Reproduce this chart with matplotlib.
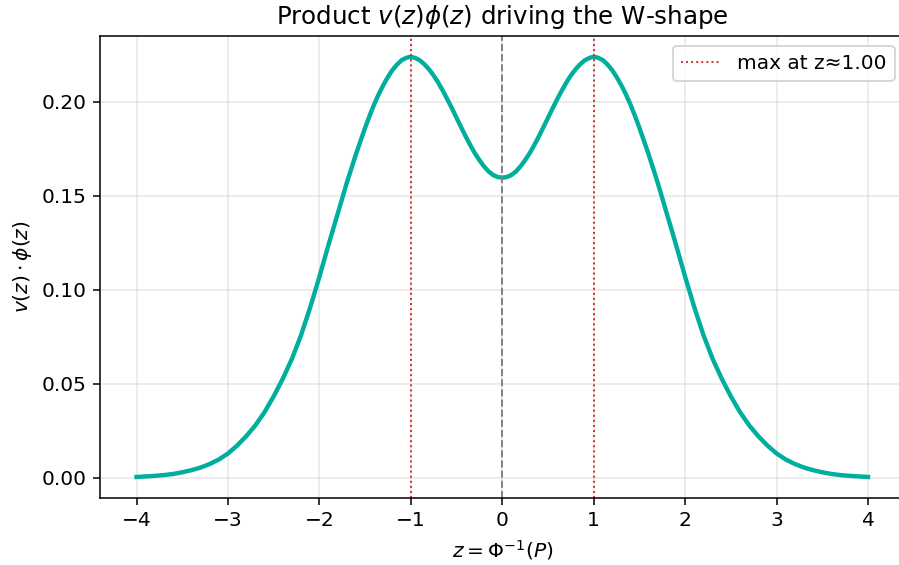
import numpy as np
import matplotlib
matplotlib.use("Agg")
import matplotlib.pyplot as plt

# ==========================================
# dados
# ==========================================
z_esquerda = [
    -4.0, -3.9, -3.8, -3.7, -3.6, -3.5, -3.4, -3.3, -3.2, -3.1,
    -3.0, -2.9, -2.8, -2.7, -2.6, -2.5, -2.4, -2.3, -2.2, -2.1,
    -2.0, -1.9, -1.8, -1.7, -1.6, -1.5, -1.45, -1.4, -1.35, -1.3,
    -1.25, -1.2, -1.15, -1.1, -1.05, -1.0, -0.95, -0.9, -0.85, -0.8,
    -0.75, -0.7, -0.65, -0.6, -0.55, -0.5, -0.45, -0.4, -0.35, -0.3,
    -0.25, -0.2, -0.15, -0.1, -0.05,
]
produto_esquerda = [
    0.0005, 0.0008, 0.0011, 0.0015, 0.0021, 0.0030, 0.0041, 0.0055, 0.0074, 0.0098,
    0.0130, 0.0172, 0.0222, 0.0280, 0.0350, 0.0434, 0.0528, 0.0634, 0.0760, 0.0908,
    0.1070, 0.1240, 0.1405, 0.1570, 0.1722, 0.1862, 0.1927, 0.1988, 0.2042, 0.2090,
    0.2133, 0.2170, 0.2199, 0.2222, 0.2234, 0.2240, 0.2233, 0.2220, 0.2199, 0.2172,
    0.2140, 0.2102, 0.2059, 0.2013, 0.1965, 0.1915, 0.1865, 0.1816, 0.1770, 0.1727,
    0.1690, 0.1657, 0.1630, 0.1611, 0.1600,
]

z_direita = [
    0.0, 0.05, 0.1, 0.15, 0.2, 0.25, 0.3, 0.35, 0.4, 0.45,
    0.5, 0.55, 0.6, 0.65, 0.7, 0.75, 0.8, 0.85, 0.9, 0.95,
    1.0, 1.05, 1.1, 1.15, 1.2, 1.25, 1.3, 1.35, 1.4, 1.45,
    1.5, 1.6, 1.7, 1.8, 1.9, 2.0, 2.1, 2.2, 2.3, 2.4,
    2.5, 2.6, 2.7, 2.8, 2.9, 3.0, 3.1, 3.2, 3.3, 3.4,
    3.5, 3.6, 3.7, 3.8, 3.9, 4.0,
]
produto_direita = [
    0.1597, 0.1600, 0.1611, 0.1630, 0.1657, 0.1690, 0.1727, 0.1770, 0.1816, 0.1865,
    0.1915, 0.1965, 0.2013, 0.2059, 0.2102, 0.2140, 0.2172, 0.2199, 0.2220, 0.2233,
    0.2240, 0.2234, 0.2222, 0.2199, 0.2170, 0.2133, 0.2090, 0.2042, 0.1988, 0.1927,
    0.1862, 0.1722, 0.1570, 0.1405, 0.1240, 0.1070, 0.0908, 0.0760, 0.0634, 0.0528,
    0.0434, 0.0350, 0.0280, 0.0222, 0.0172, 0.0130, 0.0098, 0.0074, 0.0055, 0.0041,
    0.0030, 0.0021, 0.0015, 0.0011, 0.0008, 0.0005,
]

z_vals = z_esquerda + z_direita
produto = produto_esquerda + produto_direita

z_max = 1.00
legenda_max = "max at z\u22481.00"

# ==========================================
# figura
# ==========================================
fig = plt.figure(figsize=(899 / 138, 565 / 138), dpi=138)
ax = fig.add_axes([0.1112, 0.1186, 0.895, 0.8182])

ax.plot(z_vals, produto, color="#00ae9e", lw=2.3, solid_joinstyle="round")
ax.axvline(0, color="gray", ls="--", lw=1.0)
ax.axvline(z_max, color="#d62728", ls=":", lw=1.0, label=legenda_max)
ax.axvline(-z_max, color="#d62728", ls=":", lw=1.0)

ax.set_xlim(-4.4, 4.4)
ax.set_xticks(np.arange(-4, 5, 1))
ax.tick_params(labelsize=10.5)
ax.grid(True, alpha=0.3)
ax.spines["right"].set_visible(False)

ax.set_title(r"Product $v(z)\phi(z)$ driving the W-shape", fontsize=12.8)
ax.set_xlabel(r"$z=\Phi^{-1}(P)$", fontsize=10.6)
ax.set_ylabel(r"$v(z)\cdot\phi(z)$", fontsize=10.6)
ax.legend(loc="upper right", fontsize=10.5)

fig.savefig("out.png", dpi=138)
